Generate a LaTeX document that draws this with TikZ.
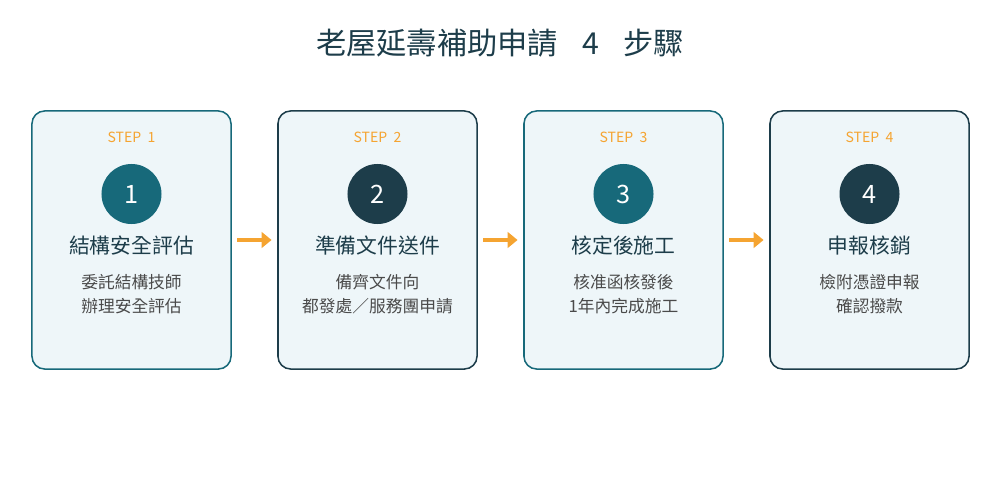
\documentclass[tikz,border=0pt]{standalone}
\usepackage{fontspec}
\setmainfont{Noto Sans CJK TC}
\usetikzlibrary{arrows.meta, positioning}
\definecolor{tealc}{HTML}{17697A}
\definecolor{darkc}{HTML}{1D3D4A}
\definecolor{orangec}{HTML}{F5A431}
\definecolor{boxfill}{HTML}{EEF6F9}
\definecolor{descc}{HTML}{4A4A4A}
\tikzstyle{stepcard} = [rectangle, draw, line width=1.1pt, rounded corners=9pt, fill=boxfill, minimum width=4.975cm, minimum height=6.45cm]
\tikzstyle{numdot} = [circle, minimum size=1.5cm, inner sep=0pt, text=white, font=\fontsize{18}{18}\selectfont]
\tikzstyle{steplabel} = [text=orangec, font=\fontsize{10}{10}\selectfont]
\tikzstyle{cardtitle} = [text=darkc, font=\fontsize{14.8}{14.8}\selectfont]
\tikzstyle{carddesc} = [text=descc, align=center, font=\fontsize{11.9}{17}\selectfont]
\tikzstyle{flow} = [-{Triangle[length=7pt,width=11pt]}, draw=orangec, line width=2.8pt, shorten <=4pt, shorten >=4pt]

\begin{document}
\begin{tikzpicture}[x=0.025cm, y=-0.025cm]
  \useasboundingbox (0,0) rectangle (1000,500);

  % 標題
  \node[text=darkc, font=\fontsize{21.5}{21.5}\selectfont] (title) at (500,43) {老屋延壽補助申請\hspace{0.8em}4\hspace{0.8em}步驟};

  % 步驟卡片
  \node[stepcard, draw=tealc] (b1) at (131.5,240) {};
  \node[stepcard, draw=darkc] (b2) at (377.5,240) {};
  \node[stepcard, draw=tealc] (b3) at (623.5,240) {};
  \node[stepcard, draw=darkc] (b4) at (869.5,240) {};

  % 步驟標籤
  \node[steplabel] (s1) at (131.5,137) {STEP\ \ 1};
  \node[steplabel] (s2) at (377.5,137) {STEP\ \ 2};
  \node[steplabel] (s3) at (623.5,137) {STEP\ \ 3};
  \node[steplabel] (s4) at (869.5,137) {STEP\ \ 4};

  % 編號圓圈
  \node[numdot, fill=tealc] (c1) at (131.5,194) {1};
  \node[numdot, fill=darkc] (c2) at (377.5,194) {2};
  \node[numdot, fill=tealc] (c3) at (623.5,194) {3};
  \node[numdot, fill=darkc] (c4) at (869.5,194) {4};

  % 步驟名稱
  \node[cardtitle] (t1) at (131.5,246) {結構安全評估};
  \node[cardtitle] (t2) at (377.5,246) {準備文件送件};
  \node[cardtitle] (t3) at (623.5,246) {核定後施工};
  \node[cardtitle] (t4) at (869.5,246) {申報核銷};

  % 說明
  \node[carddesc] (d1) at (131.5,294) {委託結構技師\\辦理安全評估};
  \node[carddesc] (d2) at (377.5,294) {備齊文件向\\都發處／服務團申請};
  \node[carddesc] (d3) at (623.5,294) {核准函核發後\\1年內完成施工};
  \node[carddesc] (d4) at (869.5,294) {檢附憑證申報\\確認撥款};

  % 流程箭頭
  \draw[flow] (b1) -- (b2);
  \draw[flow] (b2) -- (b3);
  \draw[flow] (b3) -- (b4);
\end{tikzpicture}
\end{document}
